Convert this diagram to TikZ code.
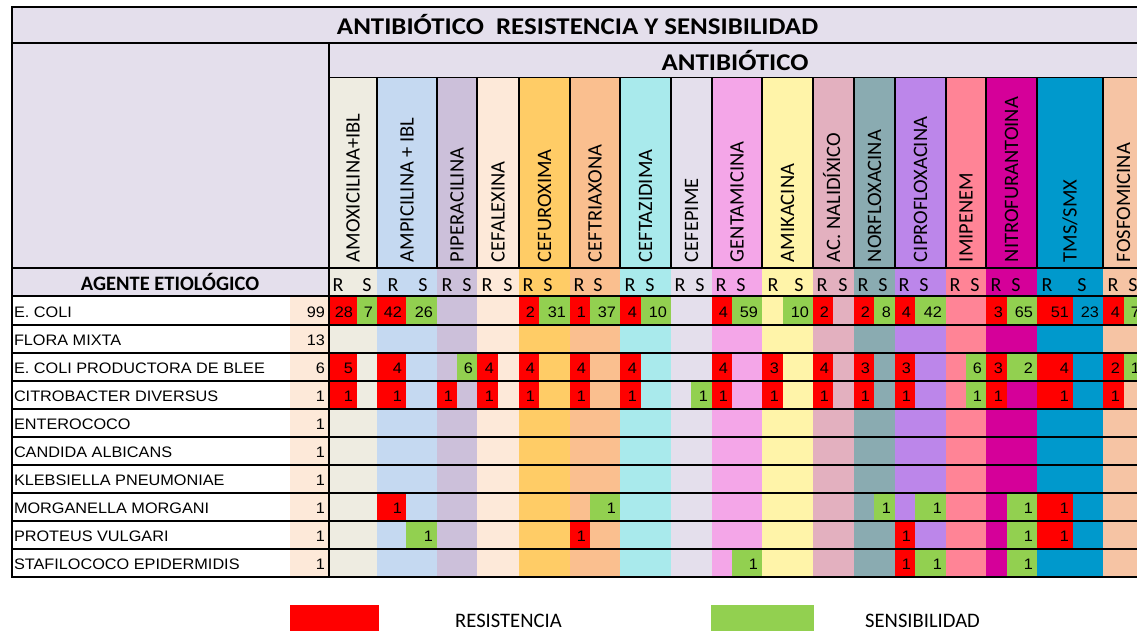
\documentclass[tikz,border=0pt]{standalone}
\usepackage{fontspec}
\setmainfont{Carlito}
\newfontfamily\cellfont[FakeStretch=1.07]{Liberation Sans}
\newfontfamily\headfont[FakeStretch=1.12]{Carlito}
\usetikzlibrary{positioning}
\definecolor{hdr}{HTML}{E4DFEC}
\definecolor{resis}{HTML}{FF0000}
\definecolor{sensi}{HTML}{92D050}
\definecolor{cAmox}{HTML}{EEECE1}
\definecolor{cAmpi}{HTML}{C5D9F1}
\definecolor{cPipe}{HTML}{CCC0DA}
\definecolor{cCefa}{HTML}{FDE9D9}
\definecolor{cCefu}{HTML}{FFCC66}
\definecolor{cCeft}{HTML}{FABF8F}
\definecolor{cCefz}{HTML}{A9EAEC}
\definecolor{cCefe}{HTML}{E4DFEC}
\definecolor{cGent}{HTML}{F4A6E8}
\definecolor{cAmik}{HTML}{FFF4A9}
\definecolor{cNali}{HTML}{E3B0BF}
\definecolor{cNorf}{HTML}{8AABB1}
\definecolor{cCipr}{HTML}{BC86EA}
\definecolor{cImip}{HTML}{FF8496}
\definecolor{cNitr}{HTML}{D50099}
\definecolor{cTmss}{HTML}{0099CC}
\definecolor{cFosf}{HTML}{F6C4A4}

\begin{document}
\begin{tikzpicture}[x=1pt,y=-1pt]
 	\tikzstyle{txt}=[inner sep=0pt, outer sep=0pt]
 	\tikzstyle{cell}=[txt, font=\cellfont\fontsize{15.2}{17}\selectfont]
 	\tikzstyle{num}=[cell, anchor=base east, xshift=-4pt]
 	\tikzstyle{lbl}=[txt, rotate=90, anchor=base west, font=\fontsize{20.5}{24}\selectfont]
 	\tikzstyle{rs}=[txt, anchor=base, font=\fontsize{20}{24}\selectfont]
 	\tikzstyle{head}=[txt, anchor=base, font=\headfont\bfseries\fontsize{24}{28}\selectfont]
 	\tikzstyle{rule}=[line width=1.5pt, black]
 	\tikzstyle{legbox}=[rectangle, minimum height=28pt, inner sep=0pt]
 	\tikzstyle{legtxt}=[txt, font=\fontsize{20.6}{24}\selectfont]
 	\useasboundingbox (0,0) rectangle (1137,631);
 	\fill[white] (0,0) rectangle (1137,631);
 	\clip (0,0) rectangle (1137,631);
 	% header panels
 	\fill[hdr] (12,7) rectangle (1150,78);
 	\fill[hdr] (12,78) rectangle (329,296);
 	% antibiotic columns
 	\foreach \c/\l/\m/\r/\col/\name in {1/329/357/377/cAmox/{AMOXICILINA+IBL}, 2/377/406/437/cAmpi/{AMPICILINA + IBL},
 		3/437/457/477/cPipe/{PIPERACILINA}, 4/477/498/519/cCefa/{CEFALEXINA}, 5/519/539/570/cCefu/{CEFUROXIMA},
 		6/570/590/620/cCeft/{CEFTRIAXONA}, 7/620/641/671/cCefz/{CEFTAZIDIMA}, 8/671/691/712/cCefe/{CEFEPIME},
 		9/712/732/762/cGent/{GENTAMICINA}, 10/762/783/813/cAmik/{AMIKACINA}, 11/813/833/854/cNali/{AC. NALIDÍXICO},
 		12/854/874/895/cNorf/{NORFLOXACINA}, 13/895/915/946/cCipr/{CIPROFLOXACINA}, 14/946/966/986/cImip/{IMIPENEM},
 		15/986/1007/1037/cNitr/{NITROFURANTOINA}, 16/1037/1073/1103/cTmss/{TMS/SMX}, 17/1103/1124/1144/cFosf/{FOSFOMICINA}} {
 		\coordinate (L\c) at (\l,0);
 		\coordinate (M\c) at (\m,0);
 		\coordinate (R\c) at (\r,0);
 		\fill[\col] (\l,78) rectangle (\r,577);
 		\node[lbl] (lab\c) at ({(\l+\r)/2+6.5},262) {\name};
 	}
 	% rows
 	\foreach \r in {1,...,10} {
 		\coordinate (t\r) at (0,{269+28*\r});
 		\coordinate (b\r) at (0,{297+28*\r});
 		\coordinate (y\r) at (0,{289+28*\r});
 	}
 	\fill[white] (12,297) rectangle (290,577);
 	\fill[cCefa] (290,297) rectangle (329,577);
 	\foreach \r/\name/\n in {1/{E. COLI}/99, 2/{FLORA MIXTA}/13, 3/{E. COLI PRODUCTORA DE BLEE}/6,
 		4/{CITROBACTER DIVERSUS}/1, 5/{ENTEROCOCO}/1, 6/{CANDIDA ALBICANS}/1, 7/{KLEBSIELLA PNEUMONIAE}/1,
 		8/{MORGANELLA MORGANI}/1, 9/{PROTEUS VULGARI}/1, 10/{STAFILOCOCO EPIDERMIDIS}/1} {
 		\node[cell, anchor=base west] (ag\r) at (14,{289+28*\r}) {\name};
 		\node[num, xshift=2pt] (n\r) at (327,{289+28*\r}) {\n};
 	}
 	% resistencia
 	\foreach \r/\c/\v in {1/1/28, 1/2/42, 1/5/2, 1/6/1, 1/7/4, 1/9/4, 1/11/2, 1/12/2, 1/13/4, 1/15/3, 1/16/51, 1/17/4,
 		3/1/5, 3/2/4, 3/4/4, 3/5/4, 3/6/4, 3/7/4, 3/9/4, 3/10/3, 3/11/4, 3/12/3, 3/13/3, 3/15/3, 3/16/4, 3/17/2,
 		4/1/1, 4/2/1, 4/3/1, 4/4/1, 4/5/1, 4/6/1, 4/7/1, 4/9/1, 4/10/1, 4/11/1, 4/12/1, 4/13/1, 4/15/1, 4/16/1, 4/17/1,
 		8/2/1, 8/16/1, 9/6/1, 9/13/1, 9/16/1, 10/13/1} {
 		\fill[resis] (L\c |- t\r) rectangle (M\c |- b\r);
 		\node[num] (res\r-\c) at (M\c |- y\r) {\v};
 	}
 	% sensibilidad
 	\foreach \r/\c/\v in {1/1/7, 1/2/26, 1/5/31, 1/6/37, 1/7/10, 1/9/59, 1/10/10, 1/12/8, 1/13/42, 1/15/65, 1/17/7,
 		3/3/6, 3/14/6, 3/15/2, 3/17/1, 4/8/1, 4/14/1, 8/6/1, 8/12/1, 8/13/1, 8/15/1,
 		9/2/1, 9/15/1, 10/9/1, 10/13/1, 10/15/1} {
 		\fill[sensi] (M\c |- t\r) rectangle (R\c |- b\r);
 		\node[num] (sen\r-\c) at (R\c |- y\r) {\v};
 	}
 	\node[num] (sen1-16) at (R16 |- y1) {23};
 	% grid
 	\draw[rule] (12,7) rectangle (1150,577);
 	\draw[rule] (12,43) -- (1150,43);
 	\draw[rule, line width=1pt] (329,78) -- (1150,78);
 	\draw[rule] (12,268) -- (1150,268);
 	\draw[rule] (12,296) -- (1150,296);
 	\foreach \r in {1,...,9} \draw[rule] (12,{297+28*\r}) -- (1150,{297+28*\r});
 	\draw[rule] (329,43) -- (329,577);
 	\foreach \c in {2,...,17} \draw[rule] (L\c) ++(0,78) -- ++(0,190);
 	% headings
 	\node[head] (title) at (577.5,35) {ANTIBIÓTICO\ \ RESISTENCIA Y SENSIBILIDAD};
 	\node[head] (abx) at (735,70.5) {ANTIBIÓTICO};
 	\node[txt, anchor=base, font=\bfseries\fontsize{20.5}{24}\selectfont] (agente) at (170,290) {AGENTE ETIOLÓGICO};
 	\foreach \c/\xr/\xs in {1/338/367, 2/393/423, 3/447/467, 4/487/508, 5/528/548, 6/579/598, 7/630/650, 8/680/700,
 		9/721/741, 10/773/799, 11/822/843, 12/863/883, 13/904/924, 14/955/975, 15/996/1016, 16/1047/1082, 17/1113/1133} {
 		\node[rs] (rr\c) at (\xr,291) {R};
 		\node[rs] (ss\c) at (\xs,291) {S};
 	}
 	% legend
 	\node[legbox, fill=resis, minimum width=89pt] (legR) at (334.5,619) {};
 	\node[legtxt, right=76pt of legR, yshift=-2pt] (legRt) {RESISTENCIA};
 	\node[legbox, fill=sensi, minimum width=103pt] (legS) at (762.5,619) {};
 	\node[legtxt, right=51pt of legS, yshift=-2pt] (legSt) {SENSIBILIDAD};
\end{tikzpicture}
\end{document}
